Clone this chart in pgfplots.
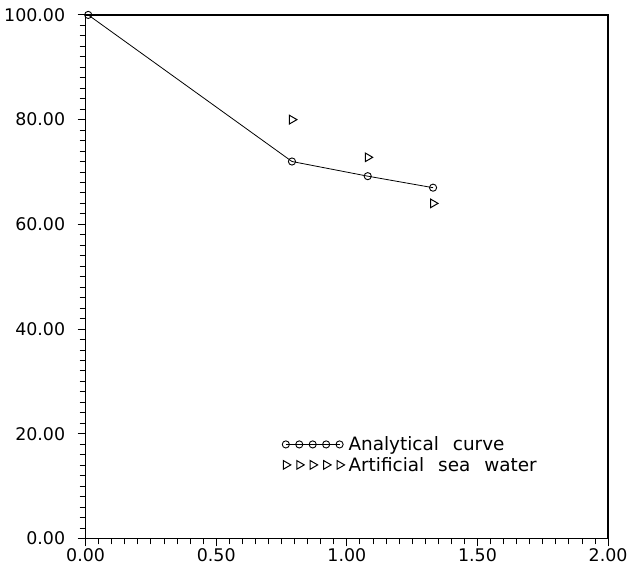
\documentclass[border=0pt]{standalone}
\usepackage{pgfplots}
\pgfplotsset{compat=1.18}
\usepackage{fontspec}
\setmainfont{DejaVu Sans}
\begin{document}
\begin{tikzpicture}
\begin{axis}[
  scale only axis,
  width=525pt, height=526pt,
  xmin=0, xmax=2, ymin=0, ymax=100,
  xtick={0,0.5,1,1.5,2},
  ytick={0,20,40,60,80,100},
  minor x tick num=9,
  minor y tick num=9,
  tick align=outside,
  xtick pos=bottom, ytick pos=left,
  major tick length=8pt, minor tick length=6pt,
  every tick/.style={line width=0.9pt, black},
  axis line style={line width=1.3pt},
  /pgf/number format/.cd, fixed, fixed zerofill, precision=2, assume math mode=true,
  /pgfplots/.cd,
  tick label style={font=\fontsize{17.5}{20}\selectfont},
  yticklabel style={xshift=-9pt},
  xticklabel style={yshift=1pt},
  legend style={at={(0.376,0.16)}, anchor=west, draw=none, fill=none,
    font=\fontsize{18.5}{20}\selectfont, row sep=1pt, inner sep=0pt},
  legend cell align=left,
  legend image code/.code={\draw[#1] plot coordinates {(0pt,0pt) (13.5pt,0pt) (27pt,0pt) (40.5pt,0pt) (54pt,0pt)};},
]
\addplot[black, line width=0.8pt, mark=o, mark size=3.6pt, mark options={line width=0.9pt}]
  coordinates {(0.01,100) (0.79,72) (1.08,69.2) (1.33,67.0)};
\addlegendentry{\hspace{2pt}Analytical\hspace{14pt}curve}
\addplot[black, only marks, mark=triangle, mark size=5pt, mark options={rotate=-90, line width=1pt}]
  coordinates {(0.79,80) (1.08,72.8) (1.33,64.0)};
\addlegendentry{\hspace{2pt}Artificial\hspace{14pt}sea\hspace{14pt}water}
\end{axis}
\pgfresetboundingbox
\path ([shift={(-86pt,-32pt)}]current axis.south west) rectangle ([shift={(21pt,15pt)}]current axis.north east);
\end{tikzpicture}
\end{document}
